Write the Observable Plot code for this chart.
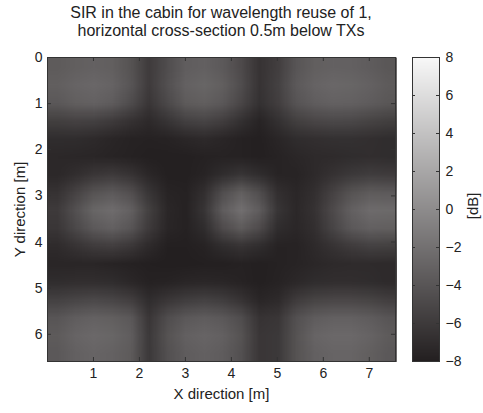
<!DOCTYPE html>
<html><head><meta charset="utf-8">
<script src="https://cdn.jsdelivr.net/npm/d3@7"></script>
<script src="https://cdn.jsdelivr.net/npm/@observablehq/plot@0.6"></script>
<style>
body{margin:0;background:#fff;font-family:"Liberation Sans",Arial,sans-serif;}
#wrap{position:relative;width:483px;height:413px;overflow:hidden;}
#title{position:absolute;left:21px;width:400px;top:4px;text-align:center;font-size:16px;line-height:18px;color:#222;}
.abs{position:absolute;top:0;}
</style></head><body>
<div id="wrap"><div id="title">SIR in the cabin for wavelength reuse of 1,<br>horizontal cross-section 0.5m below TXs</div></div>
<script>
// Axis ticks
const xTicks = [1, 2, 3, 4, 5, 6, 7];
const yTicks = [0, 1, 2, 3, 4, 5, 6];
const cTicks = [-8, -6, -4, -2, 0, 2, 4, 6, 8];
const xExtent = [0, 7.57];
const yExtent = [0, 6.59];
const cExtent = [-8, 8];
// SIR grid [dB]: 17 rows (y from 0 to 6.6 m) x 19 columns (x from 0 to 7.6 m)
const sirRows = [
 [-3.6,-3.3,-3.1,-3.3,-4.2,-5.9,-4.6,-3.4,-3.2,-3.7,-4.8,-6.5,-5.7,-4.0,-3.3,-3.1,-3.2,-3.5,-3.9],
 [-3.3,-2.9,-2.7,-3.0,-4.0,-5.9,-4.4,-3.1,-2.8,-3.3,-4.6,-6.5,-5.5,-3.7,-3.0,-2.7,-2.8,-3.1,-3.6],
 [-3.8,-3.3,-3.1,-3.5,-4.7,-6.3,-4.9,-3.6,-3.3,-3.8,-5.1,-6.7,-5.7,-4.1,-3.4,-3.1,-3.2,-3.5,-3.9],
 [-5.6,-5.4,-5.5,-5.9,-6.6,-7.2,-6.4,-5.5,-5.2,-5.7,-6.7,-7.6,-6.7,-5.6,-5.1,-4.9,-5.0,-5.3,-5.6],
 [-7.0,-7.0,-7.2,-7.5,-7.7,-7.8,-7.7,-7.4,-7.2,-7.5,-7.8,-7.9,-7.5,-7.0,-6.8,-6.7,-6.7,-6.8,-7.0],
 [-7.3,-7.4,-7.5,-7.6,-7.8,-7.9,-7.9,-7.9,-7.8,-7.7,-7.8,-7.9,-7.7,-7.4,-7.2,-7.1,-7.0,-6.9,-7.0],
 [-7.3,-6.9,-6.3,-6.0,-6.5,-7.4,-7.9,-7.9,-7.6,-7.0,-6.4,-7.0,-7.6,-7.6,-7.2,-6.6,-6.1,-5.8,-5.9],
 [-6.6,-5.4,-4.2,-3.7,-4.5,-6.4,-7.6,-7.8,-6.8,-4.6,-3.3,-4.6,-6.8,-7.4,-6.8,-5.4,-4.2,-3.6,-3.7],
 [-6.0,-4.4,-2.8,-2.3,-3.2,-5.6,-7.4,-7.8,-6.4,-3.5,-2.1,-3.5,-6.4,-7.3,-6.6,-4.8,-3.2,-2.4,-2.5],
 [-6.3,-5.0,-3.7,-3.2,-4.0,-6.0,-7.5,-7.8,-7.0,-4.8,-3.6,-4.8,-7.0,-7.4,-6.8,-5.2,-3.8,-3.2,-3.3],
 [-7.1,-6.5,-5.9,-5.7,-6.2,-7.2,-7.9,-7.9,-7.7,-7.0,-6.5,-7.0,-7.7,-7.7,-7.2,-6.5,-5.9,-5.5,-5.6],
 [-7.5,-7.5,-7.5,-7.6,-7.8,-7.9,-8.0,-8.0,-7.9,-7.9,-7.8,-7.9,-7.8,-7.6,-7.4,-7.2,-7.1,-7.1,-7.2],
 [-7.0,-6.9,-6.9,-7.0,-7.4,-7.8,-7.7,-7.5,-7.4,-7.5,-7.7,-7.9,-7.7,-7.3,-7.0,-6.9,-6.9,-7.0,-7.2],
 [-5.5,-5.2,-5.0,-5.2,-5.7,-7.0,-6.3,-5.8,-5.5,-5.8,-6.5,-7.5,-7.2,-5.9,-5.3,-5.1,-5.1,-5.3,-5.7],
 [-4.0,-3.4,-3.1,-3.3,-3.8,-6.3,-4.6,-3.8,-3.5,-3.8,-4.6,-6.5,-6.3,-4.4,-3.5,-3.2,-3.2,-3.5,-4.0],
 [-3.6,-2.9,-2.6,-2.8,-3.4,-6.1,-4.2,-3.2,-2.9,-3.2,-4.2,-6.3,-6.1,-4.2,-2.9,-2.6,-2.6,-3.0,-3.6],
 [-3.8,-3.2,-2.9,-3.1,-3.6,-6.1,-4.4,-3.5,-3.2,-3.5,-4.4,-6.3,-6.1,-4.2,-3.2,-2.9,-2.9,-3.3,-3.8]
];
const sirValues = sirRows.flat();
const gridW = sirRows[0].length, gridH = sirRows.length;

const color = {type: "linear", domain: cExtent, range: ["#231f20", "#f8f8f8"], interpolate: "rgb"};
const font = {fontFamily: "'Liberation Sans', Arial, sans-serif", fontSize: "14px", color: "#222", background: "transparent", overflow: "visible"};
const W = 483, H = 413, mL = 47, mR = 88, mT = 57, mB = 52;
const fw = W - mL - mR, fh = H - mT - mB;
const minus = d => d < 0 ? "\u2212" + (-d) : String(d);

const main = Plot.plot({
  width: W, height: H, marginLeft: mL, marginRight: mR, marginTop: mT, marginBottom: mB,
  style: font,
  x: {domain: xExtent},
  y: {domain: yExtent, reverse: true},
  color,
  marks: [
    Plot.raster(sirValues, {width: gridW, height: gridH, x1: 0, x2: 7.6, y1: 0, y2: 6.6}),
    Plot.frame({stroke: "#333", strokeWidth: 1}),
    Plot.tickX(xTicks, {x: d => d, insetTop: fh - 4, stroke: "#333"}),
    Plot.tickX(xTicks, {x: d => d, insetBottom: fh - 4, stroke: "#333"}),
    Plot.tickY(yTicks, {y: d => d, insetRight: fw - 4, stroke: "#333"}),
    Plot.tickY(yTicks, {y: d => d, insetLeft: fw - 4, stroke: "#333"}),
    Plot.axisX(xTicks, {tickSize: 0, tickPadding: 7, fontSize: 14, label: "X direction [m]", labelAnchor: "center", labelArrow: "none", labelOffset: 37}),
    Plot.axisY(yTicks, {tickSize: 0, tickPadding: 5, fontSize: 14, label: "Y direction [m]", labelAnchor: "center", labelArrow: "none", labelOffset: 33})
  ]
});
main.classList.add("abs");
main.style.left = "0px";
main.querySelectorAll("[aria-label='x-axis label'] text, [aria-label='y-axis label'] text").forEach(t => t.style.fontSize = "15px");

const cbL = 17, cbR = 44;
const cbar = Plot.plot({
  width: 88, height: H, marginLeft: cbL, marginRight: cbR, marginTop: mT, marginBottom: mB,
  style: font,
  x: {domain: [0, 1], axis: null},
  y: {domain: cExtent},
  color,
  marks: [
    Plot.raster({x1: 0, x2: 1, y1: -8, y2: 8, fill: (x, y) => y}),
    Plot.frame({stroke: "#333", strokeWidth: 1}),
    Plot.tickY(cTicks, {y: d => d, insetRight: 88 - cbL - cbR - 3, stroke: "#333"}),
    Plot.tickY(cTicks, {y: d => d, insetLeft: 88 - cbL - cbR - 3, stroke: "#333"}),
    Plot.axisY(cTicks, {anchor: "right", tickSize: 0, tickPadding: 6, fontSize: 14, tickFormat: minus, label: null}),
    Plot.text(["[dB]"], {frameAnchor: "right", dx: 34, dy: -17, rotate: -90, fontSize: 15, fill: "#222"})
  ]
});
cbar.classList.add("abs");
cbar.style.left = "395px";

const wrap = document.getElementById("wrap");
wrap.appendChild(main);
wrap.appendChild(cbar);
</script>
</body></html>
